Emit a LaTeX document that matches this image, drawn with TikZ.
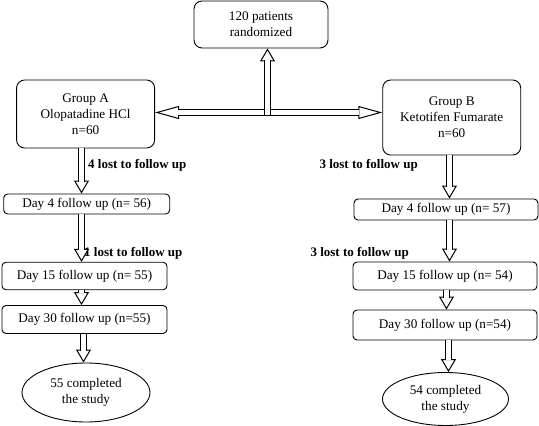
\documentclass[tikz,border=0pt]{standalone}
\usepackage{fontspec}
\setmainfont{Liberation Serif}
\usetikzlibrary{shapes.geometric, arrows.meta, positioning}
\tikzset{every node/.style={font=\normalfont}}

\begin{document}
\begin{tikzpicture}[x=1pt, y=-1pt, every node/.style={font=\fontsize{13.2}{16}\selectfont}]
    % Define styles
    \tikzstyle{bigbox} = [rectangle, rounded corners=8pt, draw=black, line width=0.9pt, align=center, inner sep=0pt]
    \tikzstyle{daybox} = [rectangle, rounded corners=4pt, draw=black, line width=0.9pt, align=center, inner sep=0pt]
    \tikzstyle{endbox} = [ellipse, draw=black, line width=0.9pt, align=center, inner sep=0pt]
    \tikzstyle{lostlabel} = [font=\fontsize{13}{16}\selectfont\bfseries, inner sep=0pt]
    \tikzstyle{tipline} = [draw=black, line width=1pt, -{Triangle[open, fill=white, length=13pt, width=15pt]}]
    \tikzstyle{sidetips} = [draw=black, line width=1pt, {Triangle[open, fill=white, length=24pt, width=13pt]}-{Triangle[open, fill=white, length=24pt, width=13pt]}]
    \tikzstyle{shaft} = [draw=black, double=white, double distance=5pt, line width=1pt, shorten >=12pt]

    \useasboundingbox (0,0) rectangle (539,426);

    % Randomization
    \node (rand) [bigbox, minimum width=134pt, minimum height=47pt] at (261,24.5) {120 patients\\randomized};
    \node (grpA) [bigbox, minimum width=138pt, minimum height=68pt] at (85.6,114) {Group A\\Olopatadine HCl\\n=60};
    \node (grpB) [bigbox, minimum width=138pt, minimum height=75pt] at (451.7,117.5) {Group B\\Ketotifen Fumarate\\n=60};

    % Group A follow up
    \node (dayA4) [daybox, minimum width=166pt, minimum height=20pt] at (86.7,204) {Day 4 follow up (n= 56)};
    \node (dayA15) [daybox, minimum width=165pt, minimum height=27.5pt] at (84.5,276) {Day 15 follow up (n= 55)};
    \node (dayA30) [daybox, minimum width=165pt, minimum height=28pt] at (84.5,319.5) {Day 30 follow up (n=55)};
    \node (doneA) [endbox, minimum width=128pt, minimum height=59pt] at (86,392.5) {55 completed\\the study};

    % Group B follow up
    \node (dayB4) [daybox, minimum width=184pt, minimum height=21pt] at (446,209.5) {Day 4 follow up (n= 57)};
    \node (dayB15) [daybox, minimum width=184pt, minimum height=28pt] at (445,276) {Day 15 follow up (n= 54)};
    \node (dayB30) [daybox, minimum width=184pt, minimum height=30pt] at (445,325) {Day 30 follow up (n=54)};
    \node (doneB) [endbox, minimum width=126pt, minimum height=53pt] at (445.5,399) {54 completed\\the study};

    % Lost to follow up
    \node (lostA1) [lostlabel, anchor=west] at (88,165) {4 lost to follow up};
    \node (lostA2) [lostlabel, anchor=west] at (84,253) {1 lost to follow up};
    \node (lostB1) [lostlabel, anchor=east] at (418,165) {3 lost to follow up};
    \node (lostB2) [lostlabel, anchor=east] at (409,253) {3 lost to follow up};

    % Arrow columns (on half points, so both shaft lines stay sharp)
    \coordinate (split) at (267.5,112.5);
    \coordinate (colA) at (81.5,0);
    \coordinate (colA4) at (83.5,0);
    \coordinate (colB) at (449.5,0);
    \coordinate (colB3) at (446.5,0);
    \coordinate (colB4) at (448.5,0);

    % Allocation (tips first, then the hollow shafts on top)
    \draw [sidetips] (split -| grpA.east) -- (split -| grpB.west);
    \draw [shaft, shorten >=23pt, shorten <=23pt] (split -| grpA.east) -- (split -| grpB.west);
    \draw [tipline] ([yshift=-2.5pt]split) -- (split |- rand.south);
    \draw [shaft] ([yshift=-2.5pt]split) -- (split |- rand.south);

    % Group A flow
    \draw [tipline] (grpA.south -| colA) -- (dayA4.north -| colA);
    \draw [shaft] (grpA.south -| colA) -- (dayA4.north -| colA);
    \draw [tipline] (dayA4.south -| colA) -- (dayA15.north -| colA);
    \draw [shaft] (dayA4.south -| colA) -- (dayA15.north -| colA);
    \draw [tipline] (dayA15.south -| colA) -- (dayA30.north -| colA);
    \draw [shaft] (dayA15.south -| colA) -- (dayA30.north -| colA);
    \draw [tipline] (dayA30.south -| colA4) -- (doneA.north -| colA4);
    \draw [shaft] (dayA30.south -| colA4) -- (doneA.north -| colA4);

    % Group B flow
    \draw [tipline] (grpB.south -| colB) -- (dayB4.north -| colB);
    \draw [shaft] (grpB.south -| colB) -- (dayB4.north -| colB);
    \draw [tipline] (dayB4.south -| colB) -- (dayB15.north -| colB);
    \draw [shaft] (dayB4.south -| colB) -- (dayB15.north -| colB);
    \draw [tipline] (dayB15.south -| colB3) -- (dayB30.north -| colB3);
    \draw [shaft] (dayB15.south -| colB3) -- (dayB30.north -| colB3);
    \draw [tipline] (dayB30.south -| colB4) -- (doneB.north -| colB4);
    \draw [shaft] (dayB30.south -| colB4) -- (doneB.north -| colB4);
\end{tikzpicture}
\end{document}
